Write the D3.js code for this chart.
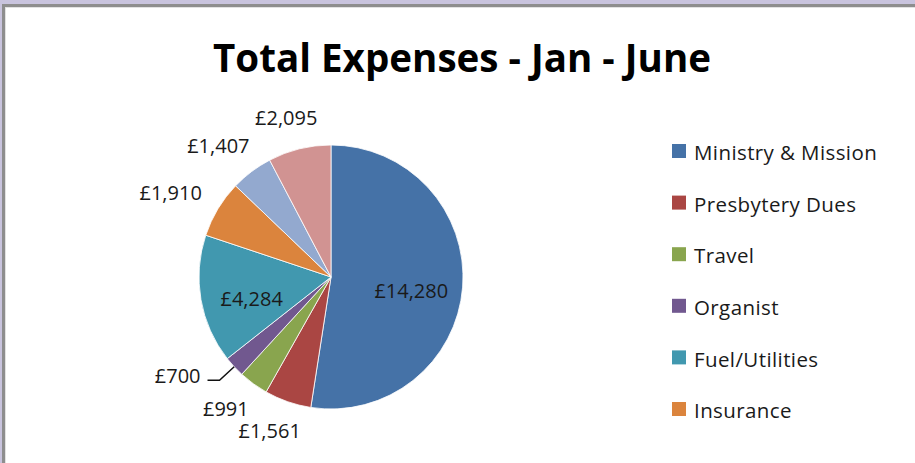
<!DOCTYPE html>
<html>
<head>
<meta charset="utf-8">
<script src="https://cdn.jsdelivr.net/npm/d3@7"></script>
<style>
  body { margin: 0; background: #fff; }
  svg { display: block; }
</style>
</head>
<body>
<div id="chart"></div>
<script>
// Expense data (Jan - June)
const categories = ['Ministry & Mission', 'Presbytery Dues', 'Travel', 'Organist',
    'Fuel/Utilities', 'Insurance', 'Other 1', 'Other 2'];
const amounts = [14280, 1561, 991, 700, 4284, 1910, 1407, 2095];
const legendCount = 6; // only the first six fit in the legend box
const colors = ['#4572A7', '#AA4643', '#89A54E', '#71588F', '#4198AF', '#DB843D', '#93A9CF', '#D19392'];

const width = 915;
const height = 463;
const font = 'Open Sans, sans-serif';

const svg = d3.select('#chart')
    .append('svg')
    .attr('width', width)
    .attr('height', height);

// Window frame
svg.append('rect').attr('x', 0).attr('y', 0).attr('width', width).attr('height', height).attr('fill', '#c9c4de');
svg.append('rect').attr('x', 2).attr('y', 4).attr('width', width).attr('height', height).attr('fill', '#8e8e8e');
svg.append('rect').attr('x', 5).attr('y', 7).attr('width', width).attr('height', height).attr('fill', '#e2e2e2');
svg.append('rect').attr('x', 6).attr('y', 8).attr('width', width).attr('height', height).attr('fill', '#fff');

// Title
svg.append('text')
    .attr('x', 462)
    .attr('y', 72)
    .attr('text-anchor', 'middle')
    .attr('font-family', font)
    .attr('font-size', 39)
    .attr('font-weight', 'bold')
    .attr('textLength', 498)
    .attr('lengthAdjust', 'spacingAndGlyphs')
    .attr('fill', '#000')
    .text('Total Expenses - Jan - June');

// Pie
const cx = 331, cy = 277, r = 132;
const data = categories.map((c, i) => ({ name: c, value: amounts[i], color: colors[i] }));
const pie = d3.pie().value(d => d.value).sort(null);
const arcs = pie(data);
const arc = d3.arc().innerRadius(0).outerRadius(r);

const g = svg.append('g').attr('transform', `translate(${cx},${cy})`);

g.selectAll('path')
    .data(arcs)
    .join('path')
    .attr('d', arc)
    .attr('fill', d => d.data.color)
    .attr('stroke', '#fff')
    .attr('stroke-width', 0.8);

// Labels
const fmt = v => '£' + d3.format(',')(v);
const labelSize = 20;
const total = d3.sum(amounts);

arcs.forEach(d => {
    const share = d.value / total;
    const mid = (d.startAngle + d.endAngle) / 2;
    const sx = Math.sin(mid), sy = -Math.cos(mid);
    const label = g.append('text')
        .attr('font-family', font)
        .attr('font-size', labelSize)
        .attr('fill', '#1a1a1a')
        .text(fmt(d.value));

    if (share > 0.15) {
        // big slices: inside label
        const c = d3.arc().innerRadius(0).outerRadius(r * 1.22).centroid(d);
        label.attr('x', c[0]).attr('y', c[1] + 8).attr('text-anchor', 'middle').attr('dy', '0.35em');
        return;
    }

    const w = label.node().getComputedTextLength();
    const h = 15;

    if (d.endAngle - d.startAngle < 10 * Math.PI / 180) {
        // tiny slice: leader line
        const p0 = [sx * r, sy * r];
        const p1 = [sx * (r + 20), sy * (r + 20)];
        const p2 = [p1[0] - 12, p1[1]];
        g.append('polyline')
            .attr('points', [p0, p1, p2].map(p => p.join(',')).join(' '))
            .attr('fill', 'none')
            .attr('stroke', '#111')
            .attr('stroke-width', 1.5);
        label.attr('x', p2[0] - 7).attr('y', p2[1] - 4).attr('text-anchor', 'end').attr('dy', '0.35em');
        return;
    }

    const d0 = r + 24;
    const x = sx * d0 + sx * w / 2;
    const y = sy * d0 + sy * h / 2;
    label.attr('x', x).attr('y', y).attr('text-anchor', 'middle').attr('dy', '0.35em');
});

// Legend
const legend = svg.append('g')
    .attr('transform', 'translate(672,152)');

const rows = legend.selectAll('g')
    .data(data.slice(0, legendCount))
    .join('g')
    .attr('transform', (d, i) => `translate(0, ${i * 51.6})`);

rows.append('rect')
    .attr('x', 0)
    .attr('y', -8)
    .attr('width', 14)
    .attr('height', 14)
    .attr('fill', d => d.color);

rows.append('text')
    .attr('x', 22)
    .attr('y', 1)
    .attr('dy', '0.35em')
    .attr('font-family', font)
    .attr('font-size', 20.5)
    .attr('letter-spacing', 0.4)
    .attr('fill', '#1a1a1a')
    .text(d => d.name);
</script>
</body>
</html>
